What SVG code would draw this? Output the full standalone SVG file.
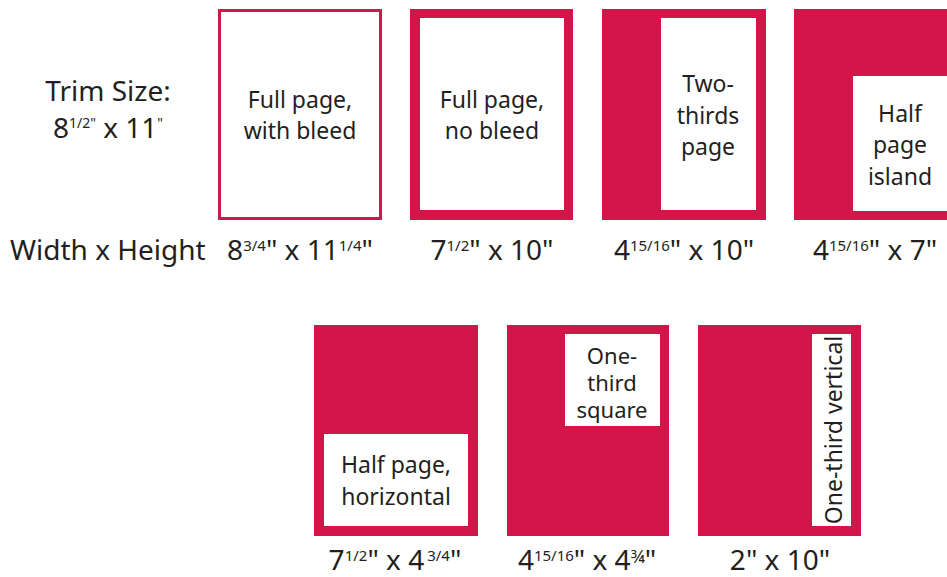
<svg xmlns="http://www.w3.org/2000/svg" width="947" height="577" viewBox="0 0 947 577">
<style>
text{font-family:"Noto Sans","Open Sans","DejaVu Sans",sans-serif;fill:#231f20}
.lbl{font-size:23px;text-anchor:middle}
.sm{font-size:22px;text-anchor:middle}
.big{font-size:28px;text-anchor:middle}
.left{font-size:28px;text-anchor:start}
.sup{font-size:15px}
.red{fill:#d31649}
.white{fill:#ffffff}
</style>
<rect width="947" height="577" fill="#ffffff"/>
<g id="trim-label">
<text class="big" x="108" y="101">Trim Size:</text>
<text class="big" x="108" y="138">8<tspan style="font-size:14px" dy="-10">1/2"</tspan><tspan dy="10"> x 11</tspan><tspan style="font-size:14px" dy="-10">"</tspan></text>
</g>
<g id="wh-label">
<text class="left" x="10" y="260">Width x Height</text>
</g>
<g id="full-bleed">
<rect x="219.5" y="10.5" width="161" height="208" fill="#ffffff" stroke="#d31649" stroke-width="3"/>
<text class="lbl" x="300" y="108">Full page,</text>
<text class="lbl" x="300" y="139">with bleed</text>
<text class="big" x="300" y="260">8<tspan class="sup" dy="-9">3/4</tspan><tspan dy="9">" x 11</tspan><tspan class="sup" dy="-9">1/4</tspan><tspan dy="9">"</tspan></text>
</g>
<g id="full-nobleed">
<rect class="red" x="410" y="9" width="163" height="211"/>
<rect class="white" x="420" y="18" width="144" height="192"/>
<text class="lbl" x="492" y="108">Full page,</text>
<text class="lbl" x="492" y="139">no bleed</text>
<text class="big" x="492" y="260">7<tspan class="sup" dy="-9">1/2</tspan><tspan dy="9">" x 10"</tspan></text>
</g>
<g id="two-thirds">
<rect class="red" x="602" y="9" width="164" height="211"/>
<rect class="white" x="661" y="18" width="95" height="192"/>
<text class="lbl" x="708" y="92">Two-</text>
<text class="lbl" x="708" y="124">thirds</text>
<text class="lbl" x="708" y="155">page</text>
<text class="big" x="684" y="260">4<tspan class="sup" dy="-9">15/16</tspan><tspan dy="9">" x 10"</tspan></text>
</g>
<g id="half-island">
<rect class="red" x="794" y="9" width="153" height="211"/>
<rect class="white" x="853" y="76" width="94" height="135"/>
<text class="lbl" x="900" y="122">Half</text>
<text class="lbl" x="900" y="153">page</text>
<text class="lbl" x="900" y="185">island</text>
<text class="big" x="875" y="260">4<tspan class="sup" dy="-9">15/16</tspan><tspan dy="9">" x 7"</tspan></text>
</g>
<g id="half-horizontal">
<rect class="red" x="314" y="325" width="164" height="211"/>
<rect class="white" x="324" y="434" width="144" height="92"/>
<text class="lbl" x="396" y="473">Half page,</text>
<text class="lbl" x="396" y="505">horizontal</text>
<text class="big" x="395" y="570">7<tspan class="sup" dy="-9">1/2</tspan><tspan dy="9">" x 4</tspan><tspan class="sup" dx="3" dy="-9">3/4</tspan><tspan dy="9">"</tspan></text>
</g>
<g id="third-square">
<rect class="red" x="507" y="325" width="162" height="211"/>
<rect class="white" x="565" y="334" width="95" height="92"/>
<text class="sm" x="612" y="364">One-</text>
<text class="sm" x="612" y="391">third</text>
<text class="sm" x="612" y="418">square</text>
<text class="big" x="587" y="570">4<tspan class="sup" dy="-9">15/16</tspan><tspan dy="9">" x 4</tspan><tspan style="font-size:18px" dy="-7">¾</tspan><tspan dy="7">"</tspan></text>
</g>
<g id="third-vertical">
<rect class="red" x="698" y="325" width="163" height="211"/>
<rect class="white" x="812" y="334" width="39" height="192"/>
<text class="lbl" transform="translate(842 430) rotate(-90)" x="0" y="0">One-third vertical</text>
<text class="big" x="780" y="570">2" x 10"</text>
</g>
<g id="connectors"></g>
</svg>
